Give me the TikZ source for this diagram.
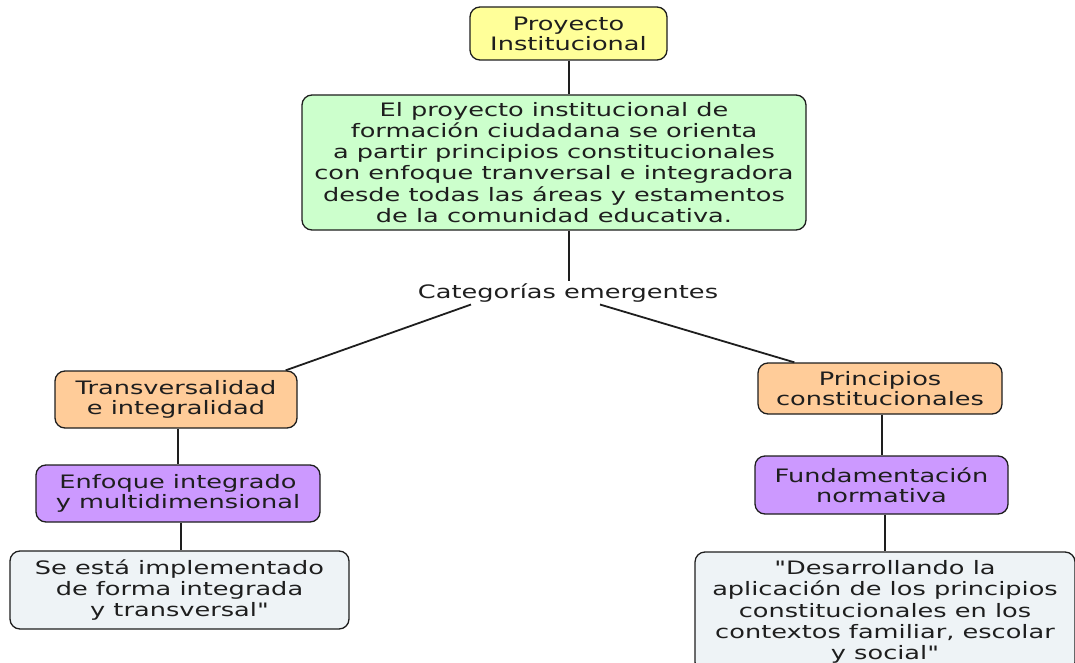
\documentclass[tikz,border=0pt]{standalone}
\usepackage{fontspec}
\setmainfont{DejaVu Sans}[FakeStretch=1.385, Ligatures=TeXOff]
\usetikzlibrary{calc}
\definecolor{cyellow}{RGB}{255,255,153}
\definecolor{cgreen}{RGB}{204,255,204}
\definecolor{corange}{RGB}{255,204,153}
\definecolor{cpurple}{RGB}{204,153,255}
\definecolor{cpale}{RGB}{238,243,246}
\definecolor{ink}{RGB}{30,30,30}
\tikzset{
  concept/.style={draw=ink, line width=1.3pt, rounded corners=10pt, align=center,
    text=ink, inner sep=0pt, font=\fontsize{18.5}{20}\selectfont},
  wide/.style={font=\fontsize{18.5}{21.2}\selectfont},
  link/.style={draw=ink, line width=1.8pt},
}
\begin{document}
\begin{tikzpicture}[x=1pt,y=-1pt]
\useasboundingbox (0,0) rectangle (1075,663);
\begin{scope}
\clip (0,0) rectangle (1075,663);
% concept boxes
\node[concept, fill=cyellow, minimum width=197pt, minimum height=53pt] (proj) at (568.5,33.5)
  {Proyecto\\Institucional};
\node[concept, wide, fill=cgreen, minimum width=504pt, minimum height=135pt] (main) at (554,162.5)
  {El proyecto institucional de\\formación ciudadana se orienta\\a partir principios constitucionales\\con enfoque tranversal e integradora\\desde todas las áreas y estamentos\\de la comunidad educativa.};
\node[text=ink, font=\fontsize{18.5}{21}\selectfont, inner sep=2pt] (cat) at (568,293) {Categorías emergentes};

\node[concept, fill=corange, minimum width=242pt, minimum height=57pt] (trans) at (176,399.5)
  {Transversalidad\\e integralidad};
\node[concept, fill=cpurple, minimum width=284pt, minimum height=57pt] (enf) at (178,493.5)
  {Enfoque integrado\\y multidimensional};
\node[concept, wide, fill=cpale, minimum width=339pt, minimum height=78pt] (se) at (179.5,590)
  {Se está implementado\\de forma integrada\\y transversal"};

\node[concept, fill=corange, minimum width=244pt, minimum height=51pt] (princ) at (880,388.5)
  {Principios\\constitucionales};
\node[concept, fill=cpurple, minimum width=253pt, minimum height=58pt] (fund) at (881.5,485)
  {Fundamentación\\normativa};
\node[concept, wide, fill=cpale, minimum width=380pt, minimum height=120pt] (des) at (885,612)
  {"Desarrollando la\\aplicación de los principios\\constitucionales en los\\contextos familiar, escolar\\y social"};

% connector end points
\coordinate (projB) at (569,0 |- proj.south);
\coordinate (catL) at ($(cat.south)+(-97,0)$);
\coordinate (catR) at ($(cat.south)+(32,0)$);
\coordinate (transTop) at ($(trans.north east)+(-12,0)$);
\coordinate (princTop) at ($(princ.north west)+(37,0)$);
\coordinate (transB) at (178,0 |- trans.south);
\coordinate (enfB) at (181,0 |- enf.south);
\coordinate (princB) at (882,0 |- princ.south);
\coordinate (fundB) at (885,0 |- fund.south);

% connectors
\draw[link] (projB) -- (projB |- main.north);
\draw[link] (projB |- main.south) -- (projB |- cat.north);
\draw[link] (catL) -- (transTop);
\draw[link] (catR) -- (princTop);
\draw[link] (transB) -- (transB |- enf.north);
\draw[link] (enfB) -- (enfB |- se.north);
\draw[link] (princB) -- (princB |- fund.north);
\draw[link] (fundB) -- (fundB |- des.north);
\end{scope}
\end{tikzpicture}
\end{document}
